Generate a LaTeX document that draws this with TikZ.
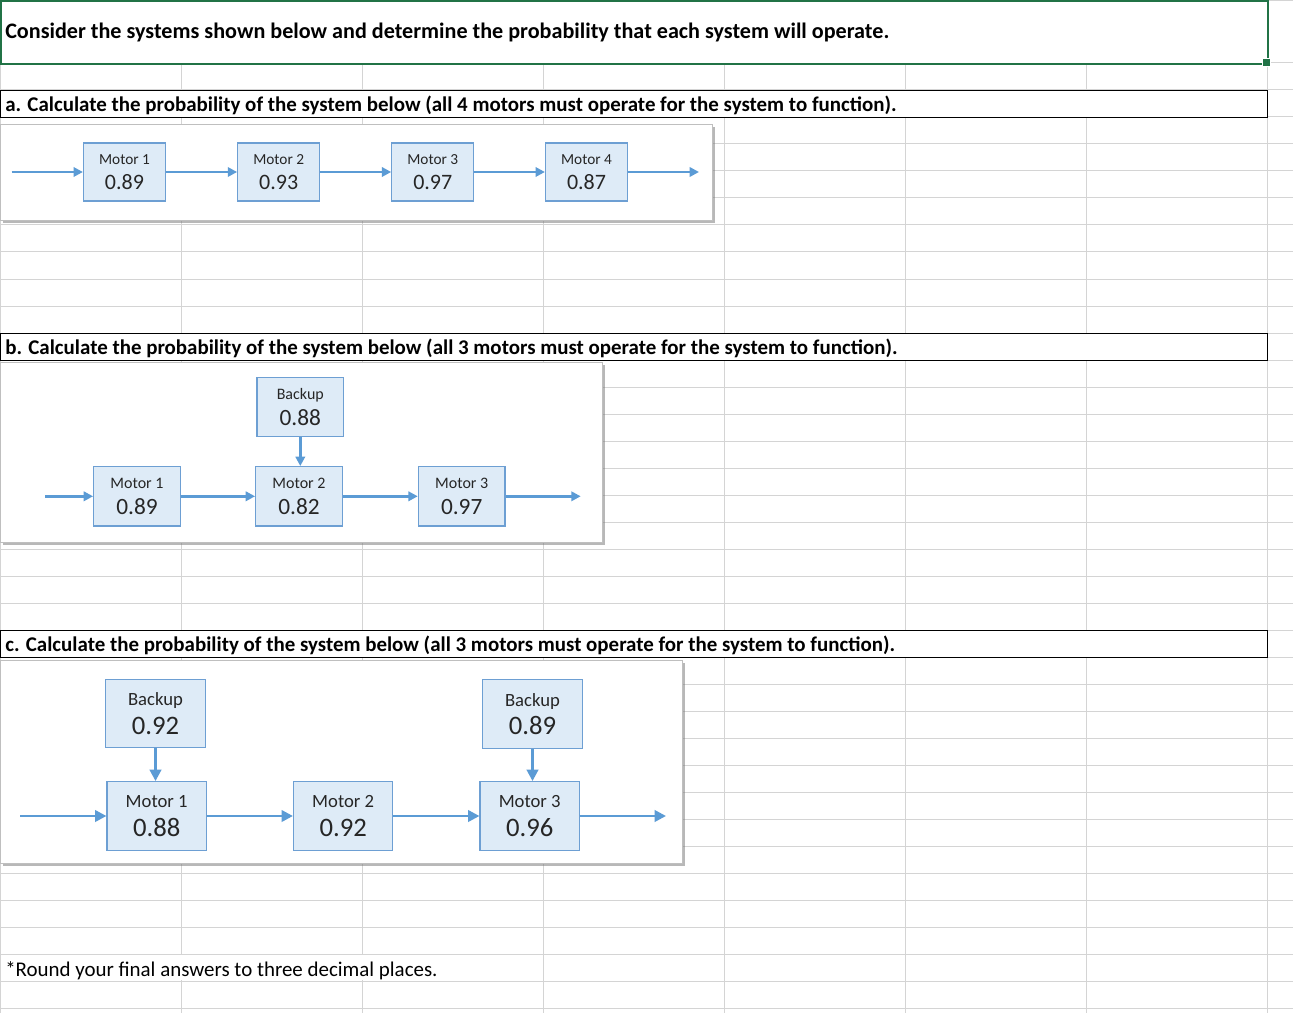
\documentclass[tikz,border=0pt]{standalone}
\usepackage{fontspec}
\setmainfont{Carlito}
\usetikzlibrary{arrows.meta,shadows}

\definecolor{gridgray}{HTML}{D4D4D4}
\definecolor{xlgreen}{HTML}{217346}
\definecolor{boxblue}{HTML}{DEEBF7}
\definecolor{edgeblue}{HTML}{6D9FD3}
\definecolor{arrowblue}{HTML}{5B9BD5}
\definecolor{boxtext}{HTML}{262626}

\newcommand{\valA}[1]{{\fontsize{16.5}{16.5}\selectfont #1}}
\newcommand{\valB}[1]{{\fontsize{17.5}{17.5}\selectfont #1}}
\newcommand{\valC}[1]{{\fontsize{20}{20}\selectfont #1}}

\begin{document}
\begin{tikzpicture}[x=0.75pt,y=-0.75pt,
    grid/.style={draw=gridgray,line width=0.75pt},
    motor/.style={rectangle,draw=edgeblue,fill=boxblue,line width=0.9pt,align=center,inner sep=0pt,text=boxtext},
    motorA/.style={motor,minimum width=61.5pt,minimum height=43.5pt,font=\fontsize{11.5}{18.75}\selectfont},
    motorB/.style={motor,minimum width=65pt,minimum height=44.5pt,font=\fontsize{12}{19}\selectfont},
    motorC/.style={motor,minimum width=74.5pt,minimum height=51.5pt,font=\fontsize{14}{21.4}\selectfont},
    flow/.style={draw=arrowblue,line width=2pt,-{Triangle[length=7pt,width=7pt]}},
    bigflow/.style={flow,-{Triangle[length=8.5pt,width=8.5pt]}},
    panel/.style={draw=black!25,fill=white,line width=0.6pt,drop shadow={shadow xshift=2.2pt,shadow yshift=-2.2pt,opacity=0.5,fill=black!55}},
    heading/.style={draw=black,fill=white,line width=1pt},
    title/.style={anchor=base west,inner sep=0pt,font=\fontsize{15.7}{18}\selectfont\bfseries}]

    \useasboundingbox[fill=white] (0,0) rectangle (1293,1013);

    % sheet grid
    \foreach \r in {0,...,35}
        \draw[grid] (0,{63+27*\r}) -- (1293,{63+27*\r});
    \draw[grid] (0,0.5) -- (1293,0.5);
    \draw[grid] (0.5,0) -- (0.5,1013);
    \foreach \c in {181,362,...,1267}
        \draw[grid] (\c,63) -- (\c,1013);
    \fill[white] (1.2,954.6) rectangle (540,980.4);

    % selected cell
    \fill[white] (0,0) rectangle (1268,64);
    \draw[xlgreen,line width=1.9pt] (0.8,0.8) rectangle (1268.2,64.2);
    \filldraw[xlgreen,draw=white,line width=0.75pt] (1262.7,59) rectangle (1270.7,67);

    \draw[heading] (0.5,90.5) rectangle (1267.5,117.5);
    \draw[heading] (0.5,333.5) rectangle (1267.5,360.5);
    \draw[heading] (0.5,630.5) rectangle (1267.5,657.5);

    \node[title,font=\fontsize{16.6}{18}\selectfont\bfseries] (T) at (5,39) {Consider the systems shown below and determine the probability that each system will operate.};
    \node[title] (Ta) at (5,111.5) {a. Calculate the probability of the system below (all 4 motors must operate for the system to function).};
    \node[title] (Tb) at (5,354.5) {b. Calculate the probability of the system below (all 3 motors must operate for the system to function).};
    \node[title] (Tc) at (5,651.5) {c. Calculate the probability of the system below (all 3 motors must operate for the system to function).};
    \node[anchor=base west,inner sep=0pt,font=\fontsize{15.7}{18}\selectfont] (R) at (5,976) {*Round your final answers to three decimal places.};

    % system a
    \draw[panel] (0.5,124) rectangle (712,220);
    \node[motorA] (A1) at (124.5,172) {Motor 1\\\valA{0.89}};
    \node[motorA] (A2) at (278.7,172) {Motor 2\\\valA{0.93}};
    \node[motorA] (A3) at (432.8,172) {Motor 3\\\valA{0.97}};
    \node[motorA] (A4) at (586.5,172) {Motor 4\\\valA{0.87}};
    \coordinate (Ain) at (11.7,172);
    \coordinate (Aout) at (699,172);
    \draw[flow] (Ain) -- (A1);
    \draw[flow] (A1) -- (A2);
    \draw[flow] (A2) -- (A3);
    \draw[flow] (A3) -- (A4);
    \draw[flow] (A4) -- (Aout);

    % system b
    \draw[panel] (0.5,362) rectangle (602,542);
    \node[motorB] (BK) at (300.3,407) {Backup\\\valB{0.88}};
    \node[motorB] (B1) at (137,496.3) {Motor 1\\\valB{0.89}};
    \node[motorB] (B2) at (299,496.3) {Motor 2\\\valB{0.82}};
    \node[motorB] (B3) at (461.7,496.3) {Motor 3\\\valB{0.97}};
    \coordinate (Bin) at (45,496.3);
    \coordinate (Bout) at (580.7,496.3);
    \draw[flow] (Bin) -- (B1);
    \draw[flow] (B1) -- (B2);
    \draw[flow] (B2) -- (B3);
    \draw[flow] (B3) -- (Bout);
    \draw[flow] (BK.south) -- (BK.south |- B2.north);

    % system c
    \draw[panel] (0.5,660) rectangle (682,863);
    \node[motorC] (CK1) at (155.5,713.5) {Backup\\\valC{0.92}};
    \node[motorC] (C1) at (156.7,816) {Motor 1\\\valC{0.88}};
    \node[motorC] (C2) at (343.2,816) {Motor 2\\\valC{0.92}};
    \node[motorC] (C3) at (529.7,816) {Motor 3\\\valC{0.96}};
    \node[motorC] (CK3) at (532.5,714) {Backup\\\valC{0.89}};
    \coordinate (Cin) at (20,816);
    \coordinate (Cout) at (666,816);
    \draw[bigflow] (Cin) -- (C1);
    \draw[bigflow] (C1) -- (C2);
    \draw[bigflow] (C2) -- (C3);
    \draw[bigflow] (C3) -- (Cout);
    \draw[bigflow] (CK1.south) -- (CK1.south |- C1.north);
    \draw[bigflow] (CK3.south) -- (CK3.south |- C3.north);
\end{tikzpicture}
\end{document}
